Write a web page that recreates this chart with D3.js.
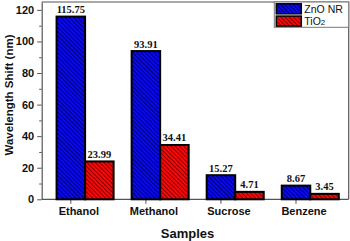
<!DOCTYPE html>
<html>
<head>
<meta charset="utf-8">
<script src="https://cdn.jsdelivr.net/npm/d3@7"></script>
<style>
  body { margin: 0; background: #fff; }
  svg { display: block; }
  .tick text { font-family: Arial, "Liberation Sans", sans-serif; font-weight: bold; }
</style>
</head>
<body>
<div id="chart"></div>
<script>
// data
var samples = ["Ethanol", "Methanol", "Sucrose", "Benzene"];
var seriesNames = ["ZnO NR", "TiO2"];
var znoValues = [115.75, 93.91, 15.27, 8.67];
var tio2Values = [23.99, 34.41, 4.71, 3.45];
var yTicks = [0, 20, 40, 60, 80, 100, 120];

var width = 350, height = 241;

// plot box (window.top is reserved, so plotTop etc.)
var plotLeft = 41.7, plotRight = 348.7, plotTop = 2, plotBottom = 199.3;

var svg = d3.select("#chart")
    .append("svg")
    .attr("width", width)
    .attr("height", height);

// hatch patterns for the bars
var defs = svg.append("defs");
function hatch(id, fill, line) {
  var p = defs.append("pattern")
      .attr("id", id)
      .attr("patternUnits", "userSpaceOnUse")
      .attr("width", 3)
      .attr("height", 3)
      .attr("patternTransform", "rotate(45)");
  p.append("rect").attr("width", 3).attr("height", 3).attr("fill", fill);
  p.append("line")
      .attr("x1", 0).attr("y1", 0.5).attr("x2", 3).attr("y2", 0.5)
      .attr("stroke", line).attr("stroke-width", 1);
}
hatch("hatchBlue", "#0a0af0", "#00007a");
hatch("hatchRed", "#f50a0a", "#8a0000");
var fills = ["url(#hatchBlue)", "url(#hatchRed)"];

// scales
var xScale = d3.scaleBand()
    .domain(samples)
    .range([plotLeft, plotRight])
    .paddingInner(0.24)
    .paddingOuter(0.165)
    .align(0.6);

var subScale = d3.scaleBand()
    .domain(seriesNames)
    .range([0, xScale.bandwidth()]);

var yScale = d3.scaleLinear()
    .domain([0, 125])
    .range([plotBottom, plotTop]);

// frame (top + right)
svg.append("path")
    .attr("d", "M" + plotLeft + "," + plotTop + "H" + plotRight + "V" + plotBottom)
    .attr("fill", "none")
    .attr("stroke", "#555")
    .attr("stroke-width", 1.2);

// minor y ticks
svg.append("g")
    .attr("transform", "translate(" + plotLeft + ",0)")
    .call(d3.axisLeft(yScale).tickValues(d3.range(10, 130, 20)).tickSize(2.5).tickFormat(""))
    .call(function(g) { g.select(".domain").remove(); })
    .selectAll("line").attr("stroke", "#555");

// y axis
var yAxis = svg.append("g")
    .attr("transform", "translate(" + plotLeft + ",0)")
    .call(d3.axisLeft(yScale).tickValues(yTicks).tickSize(4.5).tickPadding(3).tickSizeOuter(0));
yAxis.select(".domain").attr("stroke", "#555").attr("stroke-width", 1.2);
yAxis.selectAll("line").attr("stroke", "#555");
yAxis.selectAll("text").attr("font-size", 11).attr("fill", "#111");

// x axis, tick under the first bar of each group
var tickPos = samples.map(function(s) {
  return xScale(s) + subScale(seriesNames[0]) + subScale.bandwidth() / 2;
});
var xAxis = svg.append("g")
    .attr("transform", "translate(0," + plotBottom + ")");
xAxis.append("line")
    .attr("x1", plotLeft).attr("x2", plotRight)
    .attr("stroke", "#555").attr("stroke-width", 1.2);
xAxis.selectAll(".xt")
    .data(samples)
    .enter()
    .append("line")
    .attr("class", "xt")
    .attr("x1", function(d, i) { return tickPos[i]; })
    .attr("x2", function(d, i) { return tickPos[i]; })
    .attr("y1", 0).attr("y2", 4.5)
    .attr("stroke", "#555");
xAxis.selectAll(".xl")
    .data(samples)
    .enter()
    .append("text")
    .attr("class", "xl")
    .attr("x", function(d, i) { return tickPos[i] + 8; })
    .attr("y", 16)
    .attr("text-anchor", "middle")
    .attr("font-family", "Arial, 'Liberation Sans', sans-serif")
    .attr("font-weight", "bold")
    .attr("font-size", 11)
    .attr("fill", "#111")
    .text(function(d) { return d; });

// bars
var rows = samples.map(function(s, i) {
  return { sample: s, values: [znoValues[i], tio2Values[i]] };
});

var groups = svg.selectAll(".grp")
    .data(rows)
    .enter()
    .append("g")
    .attr("class", "grp")
    .attr("transform", function(d) { return "translate(" + xScale(d.sample) + ",0)"; });

groups.selectAll("rect")
    .data(function(d) { return d.values.map(function(v, j) { return { name: seriesNames[j], v: v, j: j }; }); })
    .enter()
    .append("rect")
    .attr("x", function(d) { return subScale(d.name); })
    .attr("y", function(d) { return yScale(d.v); })
    .attr("width", subScale.bandwidth())
    .attr("height", function(d) { return plotBottom - yScale(d.v); })
    .attr("fill", function(d) { return fills[d.j]; })
    .attr("stroke", "#000")
    .attr("stroke-width", 2);

groups.selectAll(".val")
    .data(function(d) { return d.values.map(function(v, j) { return { name: seriesNames[j], v: v }; }); })
    .enter()
    .append("text")
    .attr("class", "val")
    .attr("x", function(d) { return subScale(d.name) + subScale.bandwidth() / 2; })
    .attr("y", function(d) { return yScale(d.v) - 3.5; })
    .attr("text-anchor", "middle")
    .attr("font-family", "'Liberation Serif', 'Times New Roman', serif")
    .attr("font-weight", "bold")
    .attr("font-size", 10.5)
    .attr("fill", "#111")
    .text(function(d) { return d.v.toFixed(2); });

// axis titles
svg.append("text")
    .attr("transform", "translate(13,95)rotate(-90)")
    .attr("text-anchor", "middle")
    .attr("font-family", "Arial, 'Liberation Sans', sans-serif")
    .attr("font-weight", "bold")
    .attr("font-size", 11.5)
    .attr("fill", "#111")
    .text("Wavelength Shift (nm)");

svg.append("text")
    .attr("x", 187.5)
    .attr("y", 238)
    .attr("text-anchor", "middle")
    .attr("font-family", "Arial, 'Liberation Sans', sans-serif")
    .attr("font-weight", "bold")
    .attr("font-size", 13)
    .attr("fill", "#111")
    .text("Samples");

// legend
var legend = svg.append("g").attr("transform", "translate(274.3,2)");
legend.append("rect")
    .attr("width", 74.4).attr("height", 25.3)
    .attr("fill", "#fff").attr("stroke", "#777").attr("stroke-width", 1);
var legItems = legend.selectAll(".li")
    .data(seriesNames)
    .enter()
    .append("g")
    .attr("class", "li")
    .attr("transform", function(d, i) { return "translate(2," + (1.8 + i * 12.3) + ")"; });
legItems.append("rect")
    .attr("width", 25).attr("height", 10)
    .attr("fill", function(d, i) { return fills[i]; })
    .attr("stroke", "#000").attr("stroke-width", 1.5);
var legText = legItems.append("text")
    .attr("x", 28)
    .attr("y", 9)
    .attr("font-family", "Arial, 'Liberation Sans', sans-serif")
    .attr("font-size", 10.5)
    .attr("fill", "#111");
legText.each(function(d) {
  var t = d3.select(this);
  if (d === "TiO2") {
    t.append("tspan").text("TiO");
    t.append("tspan").attr("font-size", 8).text("2");
  } else {
    t.text(d);
  }
});
</script>
</body>
</html>
